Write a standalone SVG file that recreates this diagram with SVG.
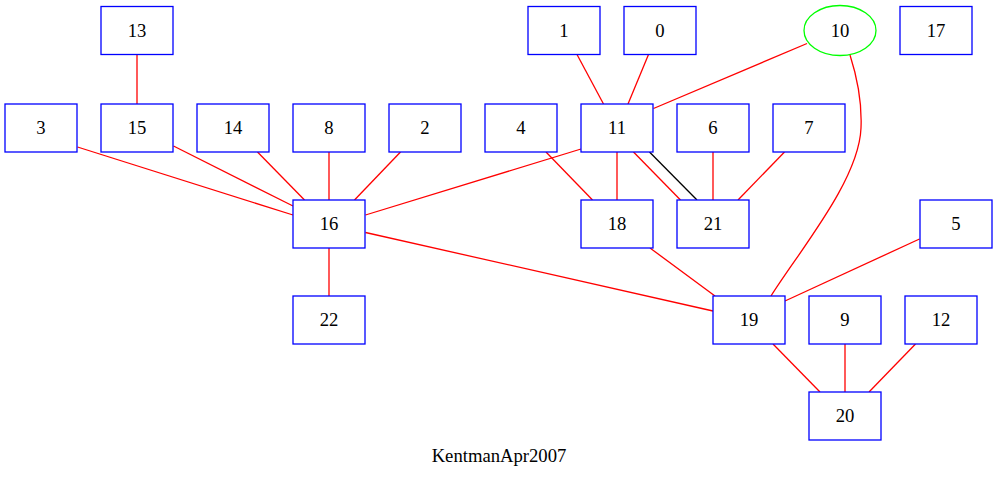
<svg xmlns="http://www.w3.org/2000/svg" width="997" height="481" viewBox="0 0 997 481">
<style>
.n rect{fill:#fff;stroke:#0000ff;stroke-width:1.3}
.n ellipse{fill:#fff;stroke:#00ff00;stroke-width:1.3}
text{font-family:"Liberation Serif","Times New Roman",serif;font-size:18.67px;fill:#000;text-anchor:middle}
.e path{fill:none;stroke:#ff0000;stroke-width:1.3}
.e path.k{stroke:#000}
</style>
<rect width="997" height="481" fill="#fff"/>
<g id="edges" class="e">
<path d="M137,54.5 V104"/>
<path d="M77.5,147 L293,215"/>
<path d="M173.5,146 L293,206"/>
<path d="M257.5,152 L304.5,200"/>
<path d="M329,152 V200"/>
<path d="M400.5,152 L354.5,200"/>
<path d="M581,149 L365.5,215"/>
<path d="M365.5,232.5 L713,311"/>
<path d="M329,248 V296"/>
<path d="M577,54.5 L603.5,104"/>
<path d="M648.5,54.5 L628,104"/>
<path d="M807,43.5 L653.5,108.5"/>
<path d="M850,55 C858,80 862,105 861,128 C859,180 800,250 771,296"/>
<path d="M617,152 V200"/>
<path d="M633.5,152 L680.5,200"/>
<path class="k" d="M649.5,152 L697,200"/>
<path d="M546,152 L592.5,200"/>
<path d="M713,152 V200"/>
<path d="M784.5,152 L738,200"/>
<path d="M650,248 L715,296"/>
<path d="M919.5,239 L785,301"/>
<path d="M773,344 L820,392"/>
<path d="M845,344 V392"/>
<path d="M915.5,344 L869,392"/>
</g>
<g id="n13" class="n"><rect x="101" y="6.5" width="72" height="48"/><text x="137" y="37">13</text></g>
<g id="n1" class="n"><rect x="528" y="6.5" width="72" height="48"/><text x="564" y="37">1</text></g>
<g id="n0" class="n"><rect x="624" y="6.5" width="72" height="48"/><text x="660" y="37">0</text></g>
<g id="n10" class="n"><ellipse cx="840" cy="30.5" rx="36" ry="25"/><text x="840" y="37">10</text></g>
<g id="n17" class="n"><rect x="900" y="6.5" width="72" height="48"/><text x="936" y="37">17</text></g>
<g id="n3" class="n"><rect x="5" y="104" width="72" height="48"/><text x="41" y="134">3</text></g>
<g id="n15" class="n"><rect x="101" y="104" width="72" height="48"/><text x="137" y="134">15</text></g>
<g id="n14" class="n"><rect x="197" y="104" width="72" height="48"/><text x="233" y="134">14</text></g>
<g id="n8" class="n"><rect x="293" y="104" width="72" height="48"/><text x="329" y="134">8</text></g>
<g id="n2" class="n"><rect x="389" y="104" width="72" height="48"/><text x="425" y="134">2</text></g>
<g id="n4" class="n"><rect x="485" y="104" width="72" height="48"/><text x="521" y="134">4</text></g>
<g id="n11" class="n"><rect x="581" y="104" width="72" height="48"/><text x="617" y="134">11</text></g>
<g id="n6" class="n"><rect x="677" y="104" width="72" height="48"/><text x="713" y="134">6</text></g>
<g id="n7" class="n"><rect x="773" y="104" width="72" height="48"/><text x="809" y="134">7</text></g>
<g id="n16" class="n"><rect x="293" y="200" width="72" height="48"/><text x="329" y="230">16</text></g>
<g id="n18" class="n"><rect x="581" y="200" width="72" height="48"/><text x="617" y="230">18</text></g>
<g id="n21" class="n"><rect x="677" y="200" width="72" height="48"/><text x="713" y="230">21</text></g>
<g id="n5" class="n"><rect x="920" y="200" width="72" height="48"/><text x="956" y="230">5</text></g>
<g id="n22" class="n"><rect x="293" y="296" width="72" height="48"/><text x="329" y="326">22</text></g>
<g id="n19" class="n"><rect x="713" y="296" width="72" height="48"/><text x="749" y="326">19</text></g>
<g id="n9" class="n"><rect x="809" y="296" width="72" height="48"/><text x="845" y="326">9</text></g>
<g id="n12" class="n"><rect x="905" y="296" width="72" height="48"/><text x="941" y="326">12</text></g>
<g id="n20" class="n"><rect x="809" y="392" width="72" height="48"/><text x="845" y="422">20</text></g>
<text x="499" y="462">KentmanApr2007</text>
</svg>
